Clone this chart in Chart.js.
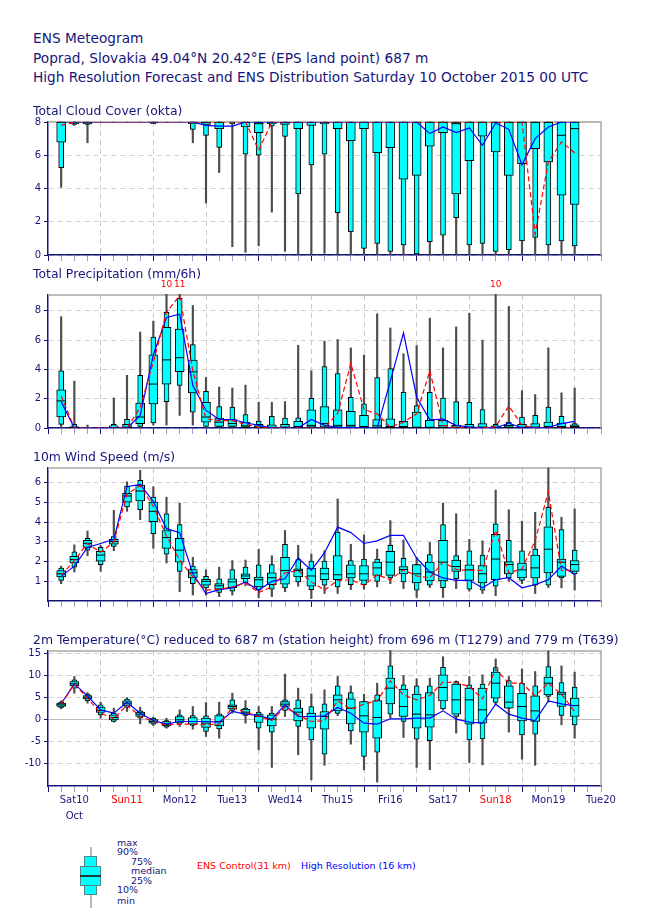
<!DOCTYPE html>
<html><head><meta charset="utf-8">
<script src="https://cdn.jsdelivr.net/npm/chart.js@4"></script>
<style>
body{margin:0;width:650px;height:916px;background:#fff;position:relative;font-family:"DejaVu Sans",sans-serif;color:#16167a;overflow:hidden}
.h{position:absolute;left:33px;white-space:nowrap;font-size:13.7px;line-height:16px}
.t{position:absolute;left:33px;white-space:nowrap;font-size:12.4px;line-height:16px}
.lg{position:absolute;white-space:nowrap;font-size:9.5px;line-height:10px}
canvas{position:absolute;left:0}
</style></head><body>
<script>
// ---------------- DATA ----------------
const hours = [6,12,18,24,30,36,42,48,54,60,66,72,78,84,90,96,102,108,114,120,126,132,138,144,150,156,162,168,174,180,186,192,198,204,210,216,222,228,234,240];
const dayLabels = ['Sat10','Sun11','Mon12','Tue13','Wed14','Thu15','Fri16','Sat17','Sun18','Mon19','Tue20'];
const monthLabel = 'Oct';
const cloudTicks = [0,2,4,6,8];
const precTicks = [0,2,4,6,8];
const windTicks = [1,2,3,4,5,6];
const tempTicks = [-10,-5,0,5,10,15];

const cloudMin = [4.07,7.8,6.75,8,8,8,8,7.9,8,8, 6.75,3.13,4.96,0.5,0.16,0.55,2.58,0.22,0,0, 0.1,0.05,0,0,0,0,0,0,0,0, 0,0,0,0,0,0,0,0,0,0];
const cloudP10 = [5.26,7.85,7.85,8,8,8,8,7.9,8,8, 7.55,7.2,6.47,7.9,6.07,6.0,7.75,7.14,3.67,5.42, 6.07,2.54,1.41,0.4,0.7,0.22,0.6,0.06,0.8,1.19, 2.24,0.6,0.7,0.22,0.32,0.85,1.05,0.6,0.85,0.55];
const cloudP25 = [6.79,7.9,7.9,8,8,8,8,7.95,8,8, 7.9,7.85,7.6,8,7.7,7.36,7.9,7.85,7.6,7.8, 7.9,7.6,6.87,7.6,6.15,6.45,4.56,4.78,6.55,7.36, 3.67,5.68,7.15,6.2,4.78,5.5,6.4,5.6,3.6,3.04];
const cloudMed = [8,8,8,8,8,8,8,8,8,8, 8,8,8,8,8,7.9,8,8,8,8, 8,8,8,8,8,8,8,8,8,8, 7.9,8,8,8,8,8,8,8,7.2,7.6];
const cloudP75 = [8,8,8,8,8,8,8,8,8,8, 8,8,8,8,8,8,8,8,8,8, 8,8,8,8,8,8,8,8,8,8, 8,8,8,8,8,8,8,8,8,8];
const cloudP90 = [8,8,8,8,8,8,8,8,8,8, 8,8,8,8,8,8,8,8,8,8, 8,8,8,8,8,8,8,8,8,8, 8,8,8,8,8,8,8,8,8,8];
const cloudMax = [8,8,8,8,8,8,8,8,8,8, 8,8,8,8,8,8,8,8,8,8, 8,8,8,8,8,8,8,8,8,8, 8,8,8,8,8,8,8,8,8,8];
const cloudCtrl = [7.8,8,8,8,8,8,8,8,8,8, 8,8,8,8,8,6.3,8,8,8,8, 8,8,8,8,8,8,8,8,8,8, 8,8,8,8,8,8,1.25,5.6,6.8,6.15];
const cloudHres = [8,8,8,8,8,8,8,8,8,8, 8,7.8,7.75,7.75,8,8,8,8,8,8, 8,8,8,8,8,8,8,8,7.3,7.7, 7.36,7.64,6.6,7.94,7.56,5.42,7.0,7.7,8,8];

const precMin = [0,0,0,0,0,0,0,0.2,0.2,0.86, 0.2,0,0,0,0,0,0,0,0,0, 0,0,0,0,0,0,0,0,0,0, 0,0,0,0,0,0,0,0,0,0];
const precP10 = [0.25,0,0,0,0,0,0.1,0.35,1.8,2.9, 1.08,0.1,0.05,0.05,0.02,0,0,0,0,0, 0,0,0,0,0,0,0,0,0,0, 0,0,0,0,0,0,0,0,0,0];
const precP25 = [0.75,0,0,0,0,0,0.3,1.65,3.0,3.85, 2.4,0.4,0.1,0.1,0.05,0.02,0,0,0.02,0.05, 0.05,0.05,0.05,0.02,0.02,0.02,0.02,0.02,0.02,0.02, 0,0,0,0,0,0,0,0,0,0];
const precMed = [1.85,0.02,0,0,0,0.05,0.75,3.0,4.65,4.8, 3.83,0.75,0.4,0.3,0.15,0.05,0.02,0.05,0.1,0.18, 0.3,0.18,0.18,0.1,0.15,0.1,0.1,0.05,0.05,0.15, 0.05,0.05,0.05,0.05,0.05,0.05,0.05,0.1,0.1,0.1];
const precP75 = [2.6,0.1,0.02,0,0.15,0.25,1.7,5.0,6.87,6.76, 4.64,1.75,0.67,0.58,0.4,0.25,0.22,0.25,0.45,1.24, 1.46,1.24,1.13,0.86,0.58,0.63,0.45,1.08,0.52,0.52, 0.18,0.25,0.3,0.15,0.18,0.25,0.3,0.4,0.34,0.22];
const precP90 = [3.9,0.25,0.05,0,0.25,0.6,3.6,6.2,7.9,8.86, 5.7,2.5,1.46,1.42,0.92,0.47,0.8,0.67,0.7,2.03, 4.2,3.72,2.1,1.65,3.45,4.05,2.43,1.53,2.43,2.05, 1.8,1.76,1.26,0.25,0.4,0.74,0.86,1.42,0.8,0.3];
const precMax = [7.6,3.2,0.2,0.05,2.05,3.6,6.55,7.3,10,11, 8.36,3.45,2.8,2.73,2.93,1.76,1.76,1.8,5.65,3.9, 5.93,6.04,5.47,4.98,7.8,6.83,5.07,5.63,7.5,5.47, 6.9,7.84,6.0,10,8.3,2.55,2.28,5.47,2.4,2.73];
const precCtrl = [2.2,0,0,0,0,0,1.4,4.5,7.9,9.05, 3.9,0.63,0.5,0.5,0.25,0.05,0,0,0,0, 0,1.0,4.4,1.26,0.97,0.05,0.4,0.97,3.9,0.18, 0.02,0,0,0.1,1.5,0.18,0,0,0,0];
const precHres = [1.8,0,0,0,0,0,0.85,5.0,7.55,7.77, 2.9,1.2,0.58,0.58,0.36,0.18,0,0,0,0.58, 0.18,0.05,0.02,0,0,3.2,6.49,2.1,0.56,0.6, 0.18,0.07,0.02,0,0.34,0,0.02,0.05,0.3,0.45];

const windMin = [0.88,1.47,2.3,1.5,2.55,4.55,4.13,2.67,1.93,0.47, 0.3,0.3,0.22,0.3,0.77,0.17,0.22,0.47,0.75,0.13, 0.38,0.38,0.58,0.6,0.72,0.88,0.63,0.18,0.68,0.18, 0.63,0.5,0.38,0.27,1.0,0.88,0.38,0.68,0.67,0.55];
const windP10 = [1.05,1.72,2.58,1.85,2.77,4.77,4.63,3.42,2.38,1.5, 0.88,0.67,0.43,0.5,0.93,0.55,0.6,0.67,0.97,0.58, 0.8,0.72,0.83,0.83,1.0,1.17,0.97,0.55,0.8,0.68, 1.13,0.6,0.55,0.75,1.17,1.05,0.8,0.8,1.17,1.38];
const windP25 = [1.22,1.93,2.72,2.02,2.88,5.02,5.08,4.02,2.67,1.97, 1.17,0.8,0.6,0.68,1.13,0.72,0.83,0.85,1.22,0.75, 1.08,1.08,1.17,1.05,1.3,1.3,1.38,0.92,1.02,1.02, 1.5,1.05,0.92,1.08,1.38,1.17,1.17,1.42,1.25,1.5];
const windMed = [1.38,2.1,2.93,2.33,3.02,5.33,5.58,4.55,3.22,2.58, 1.43,1.0,0.77,0.97,1.27,1.08,1.18,1.55,1.55,1.27, 1.38,1.33,1.38,1.38,1.68,1.97,1.6,1.38,1.47,1.97, 1.75,1.58,1.38,2.13,1.85,1.58,1.68,2.63,1.97,1.85];
const windP75 = [1.55,2.27,3.08,2.52,3.13,5.47,5.88,5.02,3.58,3.18, 1.6,1.1,0.88,1.13,1.38,1.22,1.43,2.22,1.63,1.67, 1.67,2.3,1.83,1.8,1.97,2.52,1.75,1.85,1.97,3.08, 2.08,1.83,1.8,3.38,2.0,1.92,2.33,3.77,2.13,2.05];
const windP90 = [1.67,2.5,3.18,2.72,3.27,5.83,6.13,5.27,4.43,3.88, 1.77,1.25,1.13,1.6,1.72,1.83,1.85,2.88,2.1,2.02, 2.02,3.5,2.05,2.13,2.13,2.83,2.17,1.85,2.35,3.88, 2.3,2.55,2.33,3.92,3.08,2.55,2.63,4.75,3.63,2.58];
const windMax = [1.77,2.85,3.55,2.83,4.6,6.05,6.63,5.8,5.27,4.97, 2.22,1.58,1.72,2.05,2.08,2.63,2.3,3.58,2.83,2.38, 2.55,5.18,2.88,3.35,2.63,4.08,3.1,2.22,2.97,4.97, 4.43,3.13,3.05,5.63,4.63,4.05,4.5,6.75,4.25,4.67];
const windCtrl = [1.3,2.05,2.92,2.47,3.0,5.42,5.85,4.8,3.3,2.08, 1.22,0.55,0.6,0.72,0.92,0.43,0.72,1.42,1.55,0.97, 0.55,1.05,1.08,0.8,1.33,1.08,1.58,1.27,1.18,1.97, 1.6,1.55,1.55,3.58,1.42,1.63,3.05,5.55,1.55,1.58];
const windHres = [1.25,1.77,2.72,2.92,3.13,5.8,5.92,5.05,3.67,3.47, 1.38,0.38,0.58,0.67,0.97,0.55,1.0,1.13,2.18,1.55, 2.45,3.75,3.47,2.92,3.05,3.33,3.33,2.17,1.47,1.17, 1.05,1.05,0.67,1.08,1.18,0.67,0.83,1.08,1.77,1.35];

const tempMin = [2.35,5.9,3.64,0.23,-0.68,1.74,-1.06,-1.44,-2.05,-1.67, -2.27,-3.94,-4.32,1.36,-0.9,-6.97,-10.98,0.6,-8.1,-13.8, -10.5,0.8,-5.68,-11.5,-14.3,0.23,-4.17,-10.98,-11.5,2.12, -3.18,-9.85,-10.38,3.26,-2.95,-9.1,-10.5,3.86,-1.29,-4.32];
const tempP10 = [2.65,7.05,4.17,0.98,-0.53,2.65,0.23,-1.14,-1.82,-1.14, -1.44,-2.8,-2.2,1.97,0.83,-2.05,-2.95,1.97,-1.67,-4.7, -7.95,1.3,-2.65,-8.48,-7.5,1.14,-0.53,-4.55,-4.92,2.35, 0.6,-4.7,-4.47,3.79,2.5,-3.56,-3.41,5.15,0.83,-1.29];
const tempP25 = [2.88,7.58,4.62,1.52,-0.15,3.03,0.6,-0.9,-1.52,-0.76, -1.14,-1.89,-1.52,2.35,1.14,-0.76,-1.52,2.88,-0.38,-2.05, -2.27,1.9,-1.06,-2.95,-4.32,3.48,0.6,-2.05,-1.82,4.17, 1.14,-1.14,-0.9,4.77,2.5,-0.38,-0.53,5.53,2.88,0.6];
const tempMed = [3.26,8.03,5.0,1.97,0.38,3.64,1.14,-0.53,-1.14,-0.15, -0.53,-0.9,-0.53,2.88,1.59,0.6,0,3.41,1.59,0.6, 0.6,4.4,2.5,0.76,0.38,7.05,2.88,1.14,0.98,7.2, 4.39,4.39,2.12,8.18,3.86,2.88,1.89,8.18,5.68,3.11];
const tempP75 = [3.64,8.56,5.38,2.73,0.98,4.17,1.59,0,-0.53,0.6, 0.38,0.23,0.83,3.26,2.27,1.14,0.98,4.02,2.5,1.36, 1.74,5.53,4.62,4.02,4.24,9.32,6.82,5.68,6.06,10.08, 7.95,7.05,7.05,10.68,7.58,5.9,5.3,9.55,6.14,4.77];
const tempP90 = [3.86,8.94,5.68,3.26,1.36,4.55,1.89,0.23,-0.3,0.98, 0.83,0.76,1.21,4.39,2.5,1.59,1.36,4.39,4.39,2.88, 3.48,7.58,6.06,4.02,5.53,12.1,7.8,7.58,7.58,11.8, 8.56,7.8,7.95,11.74,8.79,8.18,7.58,11.97,8.33,7.27];
const tempMax = [4.17,9.7,6.06,3.86,2.5,4.92,2.73,0.45,0.23,2.12, 2.88,3.79,3.86,5.9,4.24,2.88,2.88,10.23,7.05,5.76, 6.67,9.7,7.58,5.68,8.18,15.6,9.92,9.17,9.32,14.2, 8.71,9.7,10.08,13.7,9.7,11.44,10.83,15.5,12.12,10.68];
const tempCtrl = [3.4,7.95,4.77,1.36,0.08,3.26,0.6,-0.53,-1.29,-1.14, -1.14,-1.29,-1.14,2.65,1.59,0.6,-0.3,2.73,0.98,-0.53, -0.38,4.17,2.27,3.41,4.17,8.71,5.53,4.39,5.38,8.41, 8.33,7.42,4.62,11.36,8.18,8.18,5.3,8.18,5.68,1.74];
const tempHres = [3.56,8.03,5.3,2.12,1.36,3.86,1.36,-0.3,-1.14,-0.53, -0.53,-0.53,-0.68,1.74,1.14,0.83,0,3.26,0.6,0.6, 0.76,2.65,1.36,-0.9,-1.14,0.08,0.08,0.23,0.23,1.89, 0,-0.68,-0.9,3.41,1.14,0.23,-0.3,4.17,3.48,3.03];

// ---------------- STYLE / BUILD ----------------
const FONT = '"DejaVu Sans", sans-serif';
const NAVY = '#16167a';
const xTicks = []; for (let h = 0; h <= 252; h += 6) xTicks.push(h);

function boxDatasets(mn,p10,p25,med,p75,p90,mx,ctrl,hres){
  const pts = a => hours.map((h,i)=>({x:h,y:a[i]}));
  const rng = (a,b) => hours.map((h,i)=>({x:h,y:[a[i],b[i]]}));
  return [
    {type:'line',data:pts(ctrl),borderColor:'#ff0000',borderDash:[5,3],borderWidth:1.2,pointRadius:0,tension:0,order:1},
    {type:'line',data:pts(hres),borderColor:'#0000ff',borderWidth:1.2,pointRadius:0,tension:0,order:2},
    {type:'line',data:pts(med),showLine:false,pointStyle:'line',
      pointRadius:c=>(p75[c.dataIndex]-p25[c.dataIndex]>0.001?4.5:0),
      pointBorderColor:'#000',pointBorderWidth:1,borderColor:'#000',order:3},
    {type:'bar',data:rng(p25,p75),backgroundColor:'#00ffff',borderColor:'#000',borderWidth:1,borderSkipped:false,barThickness:9,grouped:false,clip:1,order:4},
    {type:'bar',data:rng(p10,p90),backgroundColor:'#00ffff',borderColor:'#000',borderWidth:1,borderSkipped:false,barThickness:5,grouped:false,clip:1,order:5},
    {type:'bar',data:rng(mn,mx),backgroundColor:'#4d4d4d',borderWidth:0,barThickness:1.5,grouped:false,clip:1,order:6}
  ];
}

const framePlugin = {id:'frame',beforeDatasetsDraw(ch){
  const a=ch.chartArea,c=ch.ctx;c.save();c.strokeStyle='#aca79e';c.lineWidth=1.5;
  c.beginPath();c.moveTo(a.left,a.top);c.lineTo(a.right,a.top);c.lineTo(a.right,a.bottom);c.stroke();c.restore();}};

function overflowPlugin(maxArr){
  return {id:'over',afterDraw(ch){
    const ys=ch.scales.y,xs=ch.scales.x,c=ch.ctx;
    c.save();c.fillStyle='#ff0000';c.font='9px '+FONT;c.textAlign='center';c.textBaseline='middle';
    maxArr.forEach((v,i)=>{ if(v>ys.max) c.fillText(String(v), xs.getPixelForValue(hours[i]), ch.chartArea.top-10); });
    c.restore();}};
}

function makePanel(areaTop, areaH, xH, yMin, yMax, yTicks, ds, showLabels, zeroSolid, extra){
  const padTop = 16;
  const cv = document.createElement('canvas');
  cv.width = 650; cv.height = padTop + areaH + xH;
  cv.style.top = (areaTop - padTop) + 'px';
  document.body.appendChild(cv);
  new Chart(cv, {
    type:'bar',
    data:{datasets:ds},
    options:{
      responsive:false, animation:false, events:[],
      layout:{padding:{left:0,right:49,top:padTop,bottom:0}},
      plugins:{legend:{display:false},tooltip:{enabled:false},title:{display:false}},
      scales:{
        x:{type:'linear',min:0,max:252,offset:false,
          afterBuildTicks:s=>{s.ticks=xTicks.map(v=>({value:v}));},
          afterFit:s=>{s.height=xH;},
          grid:{offset:false,lineWidth:1,tickLength:6,
            color:c=>(c.tick&&c.tick.value%24===0&&c.tick.value>0&&c.tick.value<252)?'#c8c8c8':'rgba(0,0,0,0)',
            tickColor:c=>(c.tick&&c.tick.value%24===0)?NAVY:'#9c9cc4'},
          border:{color:NAVY,width:1.5,dash:[5,4]},
          ticks:{autoSkip:false,maxRotation:0,minRotation:0,padding:0,
            font:{family:FONT,size:10,lineHeight:1.6},
            color:c=>{const l=c.tick?c.tick.label:'';return String(Array.isArray(l)?l[0]:l).startsWith('Sun')?'#ff0000':NAVY;},
            callback:v=>{
              if(!showLabels||v%24!==12) return '';
              const d=(v-12)/24;
              return d===0?[dayLabels[0],monthLabel]:dayLabels[d];
            }}
        },
        y:{min:yMin,max:yMax,
          afterBuildTicks:s=>{s.ticks=yTicks.map(v=>({value:v}));},
          afterFit:s=>{s.width=48;},
          grid:{lineWidth:1,tickLength:4,tickColor:NAVY,
            color:c=>(zeroSolid&&c.tick&&c.tick.value===0)?'#bdbdbd':'#cfcfcf'},
          border:{color:NAVY,width:1.5,dash:c=>(zeroSolid&&c.tick&&c.tick.value===0)?[]:[5,4]},
          ticks:{padding:3,color:NAVY,font:{family:FONT,size:10}}
        }
      }
    },
    plugins:[framePlugin].concat(extra||[])
  });
}

makePanel(122,134,8,0,8,cloudTicks,
  boxDatasets(cloudMin,cloudP10,cloudP25,cloudMed,cloudP75,cloudP90,cloudMax,cloudCtrl,cloudHres),false,false);
makePanel(295,134,8,0,9.08,precTicks,
  boxDatasets(precMin,precP10,precP25,precMed,precP75,precP90,precMax,precCtrl,precHres),false,false,[overflowPlugin(precMax)]);
makePanel(468,134,8,0,6.75,windTicks,
  boxDatasets(windMin,windP10,windP25,windMed,windP75,windP90,windMax,windCtrl,windHres),false,false);
makePanel(651,135,45,-15.2,15.5,tempTicks,
  boxDatasets(tempMin,tempP10,tempP25,tempMed,tempP75,tempP90,tempMax,tempCtrl,tempHres),true,true);
</script>

<div class="h" style="top:30px">ENS Meteogram</div>
<div class="h" style="top:50px">Poprad, Slovakia 49.04°N 20.42°E (EPS land point) 687 m</div>
<div class="h" style="top:69px">High Resolution Forecast and ENS Distribution Saturday 10 October 2015 00 UTC</div>
<div class="t" style="top:103px">Total Cloud Cover (okta)</div>
<div class="t" style="top:266px">Total Precipitation (mm/6h)</div>
<div class="t" style="top:449px">10m Wind Speed (m/s)</div>
<div class="t" style="top:632px">2m Temperature(°C) reduced to 687 m (station height) from 696 m (T1279) and 779 m (T639)</div>

<!-- legend -->
<div style="position:absolute;left:90px;top:847px;width:2px;height:61px;background:#b8b8b8"></div>
<div style="position:absolute;left:84px;top:856px;width:11px;height:37px;background:#00ffff;border:1px solid #4a8a8a"></div>
<div style="position:absolute;left:80px;top:866px;width:19px;height:18px;background:#00ffff;border:1px solid #4a8a8a"></div>
<div style="position:absolute;left:80px;top:875px;width:21px;height:1.5px;background:#1a3a3a"></div>
<div class="lg" style="left:117px;top:838px">max</div>
<div class="lg" style="left:117px;top:847px">90%</div>
<div class="lg" style="left:131px;top:857px">75%</div>
<div class="lg" style="left:131px;top:866px">median</div>
<div class="lg" style="left:131px;top:876px">25%</div>
<div class="lg" style="left:117px;top:885px">10%</div>
<div class="lg" style="left:117px;top:896px">min</div>
<div class="lg" style="left:197px;top:861px;color:#ff0000">ENS Control(31 km)</div>
<div class="lg" style="left:301px;top:861px;color:#0000ff">High Resolution (16 km)</div>
</body></html>
